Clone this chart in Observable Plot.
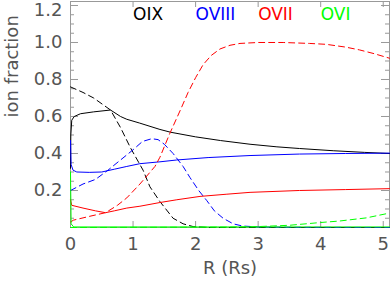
<!DOCTYPE html>
<html>
<head>
<meta charset="utf-8">
<script src="https://cdn.jsdelivr.net/npm/d3@7"></script>
<script src="https://cdn.jsdelivr.net/npm/@observablehq/plot@0.6"></script>
<style>
  html, body { margin: 0; padding: 0; background: #fff; }
  svg { display: block; }
</style>
</head>
<body>
<div id="chart"></div>
<script>
// ---- data ----
const oixSolid = [[0,0.32],[0.005,0.5],[0.02,0.58],[0.06,0.6],[0.16,0.615],[0.37,0.625],[0.64,0.635],[0.8,0.6],[0.9,0.585],[1.1,0.565],[1.43,0.53],[1.6,0.515],[2.0,0.49],[2.4,0.47],[2.87,0.45],[3.3,0.436],[3.66,0.427],[4.2,0.415],[4.7,0.406],[5.1,0.4]];
const oixDashed = [[0,0.76],[0.2,0.73],[0.37,0.70],[0.64,0.635],[0.8,0.54],[0.96,0.43],[1.16,0.31],[1.27,0.22],[1.43,0.14],[1.64,0.05],[1.8,0.02],[1.96,0.005],[2.2,0.0],[5.1,0.0]];
const oviiiSolid = [[0,0.47],[0.01,0.34],[0.04,0.31],[0.1,0.3],[0.3,0.298],[0.5,0.3],[0.7,0.315],[0.9,0.33],[1.11,0.345],[1.43,0.355],[1.7,0.365],[2.2,0.378],[2.87,0.389],[3.66,0.397],[4.4,0.4],[5.1,0.402]];
const oviiiDashed = [[0,0.2],[0.2,0.235],[0.4,0.26],[0.6,0.31],[0.8,0.365],[1.0,0.42],[1.15,0.465],[1.3,0.48],[1.4,0.475],[1.5,0.45],[1.64,0.4],[1.8,0.33],[1.91,0.27],[2.05,0.2],[2.18,0.145],[2.3,0.09],[2.44,0.05],[2.6,0.02],[2.75,0.008],[3.0,0.003],[3.6,0.001],[5.1,0.0]];
const oviiSolid = [[0,0.15],[0.02,0.12],[0.2,0.105],[0.4,0.09],[0.56,0.08],[0.7,0.09],[0.9,0.105],[1.11,0.115],[1.43,0.135],[1.7,0.15],[2.07,0.168],[2.5,0.18],[2.87,0.19],[3.66,0.2],[4.4,0.205],[5.1,0.21]];
const oviiDashed = [[0,0.03],[0.05,0.04],[0.3,0.06],[0.56,0.08],[0.75,0.12],[0.9,0.16],[1.11,0.235],[1.35,0.33],[1.43,0.38],[1.59,0.51],[1.75,0.63],[1.88,0.73],[2.0,0.81],[2.12,0.88],[2.25,0.93],[2.39,0.965],[2.55,0.985],[2.71,0.995],[3.0,1.0],[3.4,1.0],[3.82,0.995],[4.09,0.99],[4.4,0.975],[4.62,0.96],[4.85,0.94],[5.1,0.915]];
const oviSolid = [[0,0.3],[0.01,0.02],[0.05,0.003],[5.1,0.003]];
const oviDashed = [[0,0.0],[2.5,0.002],[3.0,0.005],[3.5,0.012],[4.0,0.027],[4.3,0.035],[4.73,0.052],[5.1,0.078]];

const legendNames = ["OIX", "OVIII", "OVII", "OVI"];
const legendX = [1, 2, 3, 4];
const seriesColors = ["#000000", "#0000ff", "#ff0000", "#00ff00"];

const xTickValues = [0, 1, 2, 3, 4, 5];
const yTickValues = [0.2, 0.4, 0.6, 0.8, 1.0];
const yTopTick = [1.2];
const yTickLabels = ["0.2", "0.4", "0.6", "0.8", "1.0"];
const yMinorTicks = d3.range(1, 25).map(i => i * 0.05).filter(v => Math.abs(v / 0.2 - Math.round(v / 0.2)) > 1e-6);

const font = "DejaVu Sans, sans-serif";
const textColor = "#555";
const axisColor = "#999";
const frameW = 390 - 70 - 1;
const frameH = 285 - 1 - 58;

function line(data, color, dashed) {
  return Plot.line(data, {
    x: d => d[0], y: d => d[1],
    stroke: color, strokeWidth: 1,
    strokeDasharray: dashed ? "6,4" : null
  });
}

const chart = Plot.plot({
  width: 390,
  height: 285,
  marginLeft: 70,
  marginRight: 1,
  marginTop: 1,
  marginBottom: 58,
  x: { domain: [0, 5.1], axis: null },
  y: { domain: [0, 1.2216], axis: null },
  style: { background: "#fff", fontFamily: font },
  marks: [
    // ticks
    Plot.tickY([...yTickValues, ...yTopTick], { y: d => d, stroke: axisColor, insetRight: frameW - 8 }),
    Plot.tickY([...yTickValues, ...yTopTick], { y: d => d, stroke: axisColor, insetLeft: frameW - 8 }),
    Plot.tickY(yMinorTicks, { y: d => d, stroke: axisColor, insetRight: frameW - 4 }),
    Plot.tickY(yMinorTicks, { y: d => d, stroke: axisColor, insetLeft: frameW - 4 }),
    Plot.tickX(xTickValues, { x: d => d, stroke: axisColor, insetTop: frameH - 6 }),
    Plot.tickX(xTickValues, { x: d => d, stroke: axisColor, insetBottom: frameH - 6 }),
    Plot.frame({ stroke: axisColor }),
    // curves
    line(oixSolid, seriesColors[0], false),
    line(oixDashed, seriesColors[0], true),
    line(oviiiSolid, seriesColors[1], false),
    line(oviiiDashed, seriesColors[1], true),
    line(oviiSolid, seriesColors[2], false),
    line(oviiDashed, seriesColors[2], true),
    line(oviDashed, seriesColors[3], true),
    line(oviSolid, seriesColors[3], false),
    // tick labels
    Plot.text(yTickValues, { y: d => d, text: (d, i) => yTickLabels[i], frameAnchor: "left", dx: -8, textAnchor: "end", fontSize: 18, fill: textColor }),
    Plot.text(yTopTick, { y: d => d, text: () => "1.2", frameAnchor: "left", dx: -8, dy: 5, textAnchor: "end", fontSize: 18, fill: textColor }),
    Plot.text(xTickValues, { x: d => d, text: d => String(d), frameAnchor: "bottom", dy: 22, fontSize: 18, fill: textColor }),
    // axis titles
    Plot.text(["R (Rs)"], { frameAnchor: "bottom", dy: 46, fontSize: 18, fill: textColor }),
    Plot.text(["ion fraction"], { frameAnchor: "left", dx: -58, dy: 3, rotate: -90, fontSize: 18, fill: textColor }),
    // legend
    Plot.text(legendNames, { x: (d, i) => legendX[i], y: () => 1.119, text: d => d, fill: (d, i) => seriesColors[i], textAnchor: "start", lineAnchor: "bottom", fontSize: 17 })
  ]
});

document.getElementById("chart").appendChild(chart);
</script>
</body>
</html>
